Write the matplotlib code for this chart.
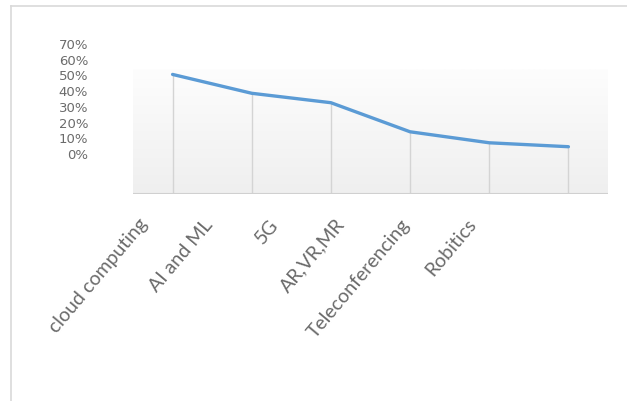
import numpy as np
import matplotlib.pyplot as plt
from matplotlib.lines import Line2D

# data
categorias = ["cloud computing", "AI and ML", "5G", "AR,VR,MR", "Teleconferencing", "Robitics"]
porcentajes = [50, 38, 32, 13.5, 6.5, 4]
ticks_y = [0, 10, 20, 30, 40, 50, 60, 70]
etiquetas_y = ["0%", "10%", "20%", "30%", "40%", "50%", "60%", "70%"]

W, H = 627, 402
fig = plt.figure(figsize=(W / 100, H / 100), dpi=100)

# borde del grafico (recorte de excel)
fig.add_artist(Line2D([11 / W, 1], [1 - 7 / H, 1 - 7 / H], color="#d9d9d9", lw=1.2))
fig.add_artist(Line2D([11 / W, 11 / W], [0, 1 - 7 / H], color="#d9d9d9", lw=1.2))

# area del grafico en pixeles
x0, x1 = 133, 608
y_top, y_bot = 40, 195
ax = fig.add_axes([x0 / W, 1 - y_bot / H, (x1 - x0) / W, (y_bot - y_top) / H])

# escala: 0% en y=154, 70% en y=44
px_per = (154 - 44) / 70
ymin = -(y_bot - 154) / px_per
ymax = 70 + (44 - y_top) / px_per
ax.set_xlim(-0.5, len(categorias) - 0.5)
ax.set_ylim(ymin, ymax)

# pared con degradado
wall_top = 70 + (44 - 70) / px_per
grad = np.linspace(0, 1, 100).reshape(-1, 1)
ax.imshow(grad, cmap=plt.matplotlib.colors.LinearSegmentedColormap.from_list("g", ["#fdfdfd", "#efefef"]),
          extent=(-0.5, len(categorias) - 0.5, ymin, wall_top), aspect="auto", zorder=0, origin="upper")

x = np.arange(len(categorias))
ax.vlines(x, ymin, porcentajes, color="#d4d4d4", lw=1, zorder=1)
ax.axhline(ymin + 0.3, color="#d0d0d0", lw=1.5, zorder=1)
ax.plot(x, porcentajes, color="#5B9BD5", lw=2.4, solid_joinstyle="round", solid_capstyle="round", zorder=3)

for s in ax.spines.values():
    s.set_visible(False)
ax.set_yticks(ticks_y)
ax.set_yticklabels(etiquetas_y, fontsize=9.5, color="#6b6b6b", family="Liberation Sans Narrow")
ax.tick_params(axis="y", length=0, pad=45 * 72 / 100)
ax.set_xticks([])

# etiquetas de categorias (perspectiva: mas juntas que las categorias)
for i, c in enumerate(categorias):
    xl = -0.44 + 0.83 * i
    ax.text(xl, ymin - 21 / px_per, c, rotation=50, ha="right", va="top", rotation_mode="anchor",
            fontsize=14, color="#6a6a6a", family="Lato", clip_on=False)

fig.savefig("out.png", dpi=100)
